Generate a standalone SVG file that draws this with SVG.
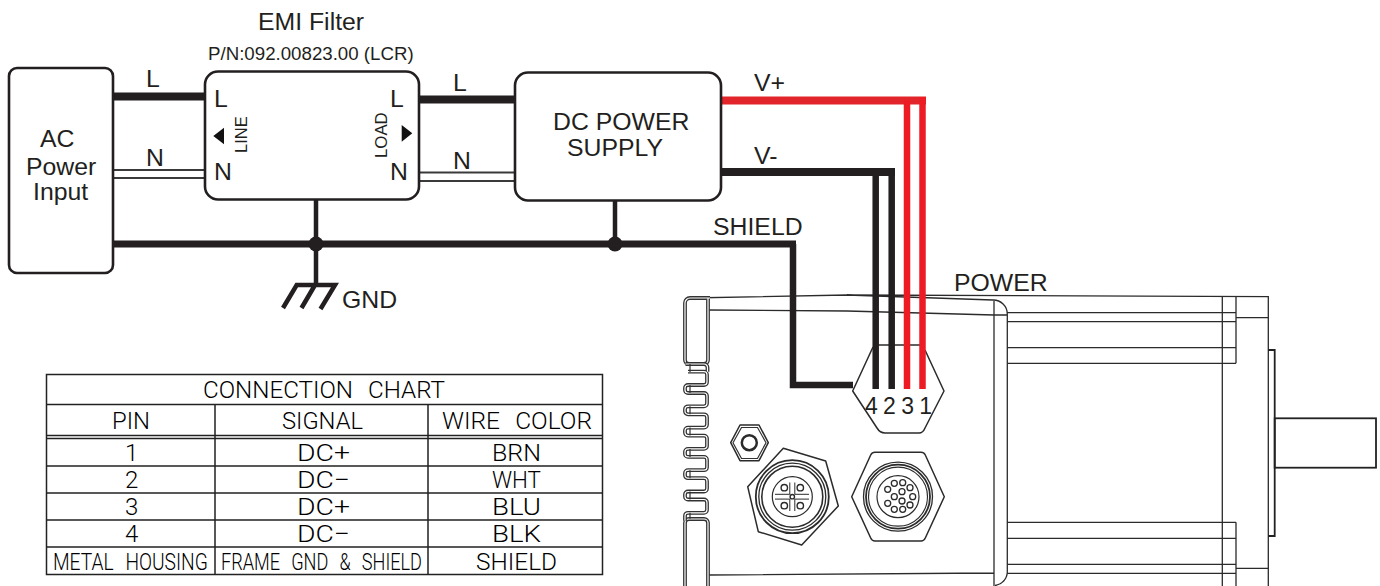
<svg xmlns="http://www.w3.org/2000/svg" width="1380" height="586" viewBox="0 0 1380 586">
<style>
text{font-family:"Liberation Sans",Arial,sans-serif;fill:#231f20}
.t24{font-size:24.8px}
.t{font-family:Roboto,"Liberation Sans",sans-serif;font-weight:300;font-size:24px;fill:#000;word-spacing:9px}
.box{fill:#fff;stroke:#231f20;stroke-width:2.6}
.w{fill:none;stroke:#231f20;stroke-width:8}
.n{fill:none;stroke:#3a3a3a;stroke-width:2.2}
.m{fill:none;stroke:#2b2b2b;stroke-width:1.3}
.h{fill:none;stroke:#2b2b2b;stroke-width:1.5;stroke-linejoin:round}
.g{fill:none;stroke:#333;stroke-width:1.2}
.g2{fill:none;stroke:#222;stroke-width:1.8}
.d1{fill:none;stroke:#333;stroke-width:3.8}
.d2{fill:none;stroke:#fff;stroke-width:1.2}
.tb{fill:none;stroke:#222;stroke-width:1.5}
.r{fill:none;stroke:#ed1c24;stroke-width:6.5}
.k{fill:none;stroke:#231f20;stroke-width:6.5}
</style>
<defs>
<path id="serp" d="M685.500 364H704a3.500 3.500 0 0 1 3.500 3.500v4.200M688 371.700h16a3 3 0 0 1 3 3v7.300a3 3 0 0 1-3 3h-16a3 3 0 0 0-3 3v2a3 3 0 0 0 3 3h16a3 3 0 0 1 3 3v7.300a3 3 0 0 1-3 3h-16a3 3 0 0 0-3 3v2a3 3 0 0 0 3 3h16a3 3 0 0 1 3 3v7.300a3 3 0 0 1-3 3h-16a3 3 0 0 0-3 3v2a3 3 0 0 0 3 3h16a3 3 0 0 1 3 3v7.300a3 3 0 0 1-3 3h-16a3 3 0 0 0-3 3v2a3 3 0 0 0 3 3h16a3 3 0 0 1 3 3v7.300a3 3 0 0 1-3 3h-16a3 3 0 0 0-3 3v2a3 3 0 0 0 3 3h16a3 3 0 0 1 3 3v7.300a3 3 0 0 1-3 3h-16a3 3 0 0 0-3 3v2a3 3 0 0 0 3 3h16a3 3 0 0 1 3 3v7.300a3 3 0 0 1-3 3h-16a3 3 0 0 0-3 3v5"/>
<path id="blk" d="M710 298H690a5 5 0 0 0-5 5V360a4 4 0 0 0 4 4H704a4 4 0 0 0 4-4V298"/>
<path id="blk2" d="M708 586V523a4 4 0 0 0-4-4H689a4 4 0 0 0-4 4V586"/>
</defs>

<g id="motor">
<path class="m" d="M690 298 847 295 1268.300 296.700V586M847 295 993 300A14 14 0 0 1 1007.300 314V572A14 14 0 0 1 995 585.500M708 310 847 311 994 315H1007M708 575 994 573M994 300V586"/>
<path class="m" d="M1007 312.700H1236M1007 321.700H1236M1007 347.700H1236M1007 363.300H1236M1007 522.300H1236M1007 538.300H1236M1007 564.300H1236M1007 573.300H1236M1222.300 296.700V586M1236 296.700V363.300M1236 522.300V586M1236 317.700H1268.300M1236 568.300H1268.300"/>
<path class="g2" d="M1268 350H1274.700V536H1268"/>
<rect class="g2" x="1274.700" y="418.300" width="101.300" height="49.400"/>
<use href="#blk" class="d1"/><use href="#blk" class="d2"/>
<use href="#blk2" class="d1"/><use href="#blk2" class="d2"/>
<use href="#serp" class="d1"/><use href="#serp" class="d2"/>
<path class="g" d="M690 364v8M690 385v8M690 406.300v8M690 427.600v8M690 448.900v8M690 470.200v8M690 491.500v8M690 512.800v6"/>
</g>

<g id="power-port">
<path class="h" d="M873 347 852.700 391 877 428Q880 433 885 433H919Q923 433 925 428L944 391 925 350M873 345H925"/>
</g>

<g id="io-nut">
<path class="h" d="M730.700 442.700 740 425H759L768.300 442.700 759 460.700H740Z"/>
<path class="g" d="M733 442.700 741.500 427.500H757.500L766 442.700 757.500 458.500H741.500Z"/>
<circle cx="749.300" cy="442.700" r="7.500" fill="none" stroke="#2b2b2b" stroke-width="2.500"/>
</g>

<g id="io-connector">
<path class="h" d="M783.300 448.300 825.700 461 838.300 506 801.700 545 758.300 531.700 747.700 486.700Z"/>
<g fill="none" stroke="#2b2b2b">
<circle cx="792.300" cy="496.700" r="36.500" stroke-width="1.800"/><circle cx="792.300" cy="496.700" r="33.500" stroke-width="1.300"/><circle cx="792.300" cy="496.700" r="30.500" stroke-width="1.600"/><circle cx="792.300" cy="496.700" r="20" stroke-width="1.200"/>
<circle cx="784.300" cy="487.700" r="3.200" stroke-width="1.400"/><circle cx="800.300" cy="487.700" r="3.200" stroke-width="1.400"/><circle cx="784.300" cy="505.700" r="3.200" stroke-width="1.400"/><circle cx="800.300" cy="505.700" r="3.200" stroke-width="1.400"/><circle cx="792.300" cy="496.700" r="2.200" stroke-width="1.400"/>
<path stroke-width="1" d="M789.800 482.500V494.500M794.800 482.500V494.500M789.800 499V511M794.800 499V511M775 494.300H789.800M794.800 494.300H809M775 499.100H789.800M794.800 499.100H809"/>
</g>
</g>

<g id="signal-connector">
<path class="h" d="M851.700 496.700 870.700 455Q872 452.300 875 452.300H921Q924 452.300 925.300 455L944.300 496.700 925.300 538Q924 541 921 541H875Q872 541 870.700 538Z"/>
<g fill="none" stroke="#2b2b2b">
<circle cx="898" cy="496.700" r="34.500" stroke-width="1.300"/><circle cx="898" cy="496.700" r="32" stroke-width="1.800"/><circle cx="898" cy="496.700" r="29.500" stroke-width="1.200"/><circle cx="898" cy="496.700" r="21" stroke-width="1.200"/>
<g stroke-width="1.300">
<circle cx="894.300" cy="483.300" r="3"/><circle cx="902.700" cy="482.700" r="3"/><circle cx="910" cy="487.700" r="3"/><circle cx="887.700" cy="489.300" r="3"/><circle cx="902" cy="491.700" r="3"/><circle cx="894.300" cy="496.700" r="3"/><circle cx="912.700" cy="496.700" r="3"/><circle cx="902" cy="501" r="3"/><circle cx="910" cy="505" r="3"/><circle cx="887.700" cy="503.300" r="3"/><circle cx="894.300" cy="509.300" r="3"/><circle cx="902.700" cy="509.300" r="3"/>
</g>
</g>
</g>

<g id="connectors">
<path class="w" d="M113 96.500H205M419 99.500H515"/>
<path class="n" d="M113 170H205M113 178H205M419 172.500H515M419 181H515"/>
<path class="w" style="stroke-width:7" d="M113 244H796"/>
<path class="k" d="M793 244V385H853"/>
<path class="w" style="stroke-width:4.500" d="M316 199V285M615 201V244"/>
<circle cx="316" cy="244" r="7.500" fill="#231f20"/>
<circle cx="615" cy="244" r="7.500" fill="#231f20"/>
<path class="w" d="M721 172H895"/>
<path class="k" d="M875.700 172V389M891.700 172V389"/>
<path class="w" style="stroke:#e2242b" d="M721 100.500H926"/>
<path class="r" d="M907 100V389M922.500 97V389"/>
</g>

<g id="ac-power-input">
<rect class="box" x="9" y="68" width="104" height="205" rx="8"/>
<text class="t24" x="40" y="147">AC</text>
<text class="t24" x="26" y="175">Power</text>
<text class="t24" x="33" y="200">Input</text>
</g>

<g id="emi-filter">
<rect class="box" x="205" y="71.500" width="214" height="128" rx="13"/>
<text class="t24" x="258" y="30">EMI Filter</text>
<text x="208" y="60" style="font-size:18.700px">P/N:092.00823.00 (LCR)</text>
<text class="t24" x="214" y="107">L</text>
<text class="t24" x="214" y="180">N</text>
<text class="t24" x="390" y="107">L</text>
<text class="t24" x="390" y="180">N</text>
<path d="M213.300 136 224 127.700V144.300Z M412.300 133.300 401.700 125V141.700Z" fill="#111"/>
<text transform="translate(246.500 153) rotate(-90)" style="font-size:16.500px">LINE</text>
<text transform="translate(386.500 158) rotate(-90)" style="font-size:16.800px">LOAD</text>
</g>

<g id="dc-power-supply">
<rect class="box" x="515" y="72.500" width="206" height="128" rx="13"/>
<text class="t24" x="553" y="130">DC POWER</text>
<text class="t24" x="567" y="156">SUPPLY</text>
</g>

<g id="gnd">
<path d="M283 308 296.700 285H335L320.500 309M315 285 301.500 308" fill="none" stroke="#231f20" stroke-width="4.500"/>
<text class="t24" x="342" y="308">GND</text>
</g>

<g id="labels">
<text class="t24" x="146" y="87">L</text>
<text class="t24" x="146" y="166">N</text>
<text class="t24" x="453" y="91">L</text>
<text class="t24" x="453" y="169">N</text>
<text class="t24" x="754" y="91">V+</text>
<text class="t24" x="754" y="164">V-</text>
<text class="t24" x="713" y="235">SHIELD</text>
<text class="t24" x="954" y="291">POWER</text>
<text x="865" y="414" style="font-size:23px;letter-spacing:5.300px">4231</text>
</g>

<g id="connection-chart">
<path class="tb" d="M46.500 374.500H602.500V574.500H46.500ZM46.500 404.500H602.500M46.500 435.500H602.500M46.500 438.500H602.500M46.500 466H602.500M46.500 493H602.500M46.500 520H602.500M46.500 547H602.500M215 404.500V574.500M428 404.500V574.500"/>
<text class="t" x="203" y="398" textLength="242" lengthAdjust="spacingAndGlyphs">CONNECTION CHART</text>
<text class="t" x="112" y="429" textLength="38" lengthAdjust="spacingAndGlyphs">PIN</text>
<text class="t" x="282" y="429" textLength="81" lengthAdjust="spacingAndGlyphs">SIGNAL</text>
<text class="t" x="442" y="429" textLength="150" lengthAdjust="spacingAndGlyphs">WIRE COLOR</text>
<text class="t" x="125" y="461">1</text><text class="t" x="297" y="461" textLength="53" lengthAdjust="spacingAndGlyphs">DC+</text><text class="t" x="492" y="461" textLength="49" lengthAdjust="spacingAndGlyphs">BRN</text>
<text class="t" x="125" y="488">2</text><text class="t" x="297" y="488" textLength="53" lengthAdjust="spacingAndGlyphs">DC−</text><text class="t" x="492" y="488" textLength="49" lengthAdjust="spacingAndGlyphs">WHT</text>
<text class="t" x="125" y="515">3</text><text class="t" x="297" y="515" textLength="53" lengthAdjust="spacingAndGlyphs">DC+</text><text class="t" x="492" y="515" textLength="49" lengthAdjust="spacingAndGlyphs">BLU</text>
<text class="t" x="125" y="542">4</text><text class="t" x="297" y="542" textLength="53" lengthAdjust="spacingAndGlyphs">DC−</text><text class="t" x="492" y="542" textLength="49" lengthAdjust="spacingAndGlyphs">BLK</text>
<text class="t" transform="translate(53 570) scale(.8 1)">METAL HOUSING</text>
<text class="t" transform="translate(221 570) scale(.755 1)">FRAME GND &amp; SHIELD</text>
<text class="t" x="476" y="570" textLength="81" lengthAdjust="spacingAndGlyphs">SHIELD</text>
</g>
</svg>
